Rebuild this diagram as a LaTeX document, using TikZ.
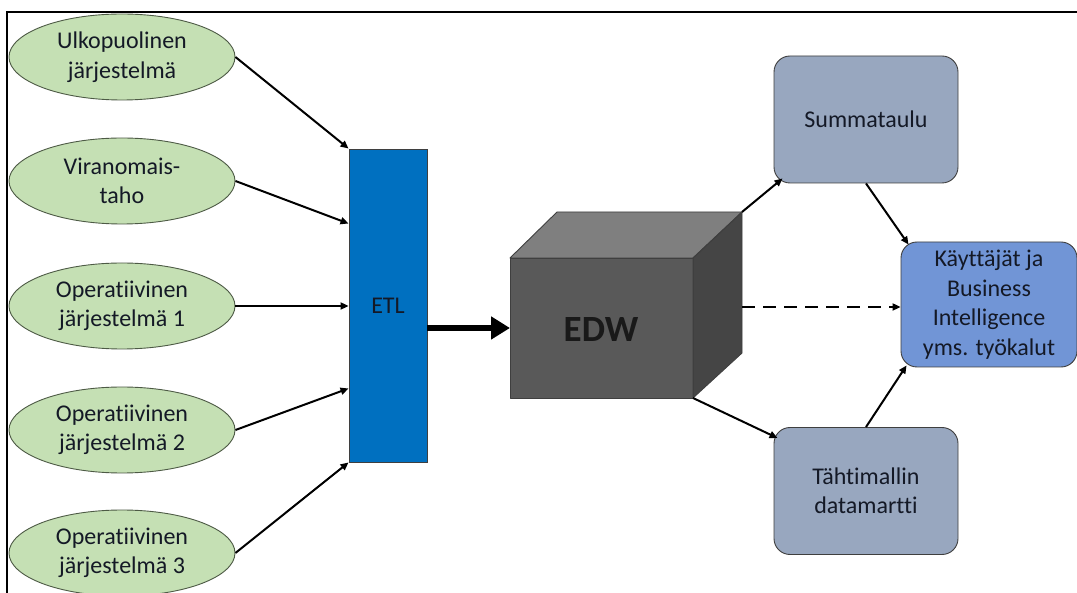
\documentclass[tikz,border=0pt]{standalone}
\usepackage{fontspec}
\setmainfont{Carlito}[Ligatures=NoCommon]
\usetikzlibrary{arrows.meta,shapes.geometric,calc}

\definecolor{srcgreen}{HTML}{C5E0B4}
\definecolor{srcedge}{HTML}{4D5A45}
\definecolor{etlblue}{HTML}{0070C0}
\definecolor{martgray}{HTML}{98A7BF}
\definecolor{userblue}{HTML}{7195D6}
\definecolor{boxedge}{HTML}{3F3F3F}
\definecolor{cubefront}{HTML}{595959}
\definecolor{cubetop}{HTML}{7F7F7F}
\definecolor{cubeside}{HTML}{454545}
\definecolor{inktext}{HTML}{141926}

\tikzset{
  labeltext/.style={font=\fontsize{24}{29.5}\selectfont, text=inktext},
  source/.style={ellipse, draw=srcedge, fill=srcgreen, line width=0.9pt,
    minimum width=226, minimum height=86, inner sep=0pt, align=center,
    labeltext},
  etlbox/.style={rectangle, draw=boxedge, fill=etlblue, line width=0.9pt,
    minimum width=78, minimum height=313, inner sep=0pt, labeltext},
  mart/.style={rectangle, rounded corners=16, draw=boxedge, fill=martgray,
    line width=0.9pt, minimum width=184, minimum height=127, inner sep=0pt,
    align=center, labeltext},
  users/.style={mart, fill=userblue, minimum width=176, minimum height=125},
  flow/.style={line width=2pt, -{Triangle[length=8pt,width=7pt]}},
  bigflow/.style={line width=6pt, -{Triangle[length=19pt,width=22pt]}},
  dashflow/.style={flow, dash pattern=on 13pt off 8pt},
  cubeface/.style={draw=boxedge, line width=0.9pt, line join=round},
}

\begin{document}
\begin{tikzpicture}[x=1pt,y=-1pt]
  \useasboundingbox (0,0) rectangle (1077,593);
  \fill[white] (0,0) rectangle (1077,593);

  % outer frame (left and top edges visible)
  \draw[line width=1.6pt] (7,600) -- (7,12) -- (1085,12);

  % data sources
  \node[source] (s1) at (122,57)  {Ulkopuolinen\\järjestelmä};
  \node[source] (s2) at (122,181) {Viranomais-\\taho};
  \node[source] (s3) at (122,306) {Operatiivinen\\järjestelmä 1};
  \node[source] (s4) at (122,430) {Operatiivinen\\järjestelmä 2};
  \node[source] (s5) at (122,553) {Operatiivinen\\järjestelmä 3};

  % ETL stage
  \node[etlbox] (etl) at (388,305.5) {ETL};

  % EDW cube
  \coordinate (fA) at (510,258);
  \coordinate (fB) at (693,258);
  \coordinate (fC) at (693,398);
  \coordinate (fD) at (510,398);
  \coordinate (bA) at (557,212);
  \coordinate (bB) at (742,212);
  \coordinate (bC) at (742,353);
  \fill[cubetop]  (fA) -- (bA) -- (bB) -- (fB) -- cycle;
  \fill[cubeside] (fB) -- (bB) -- (bC) -- (fC) -- cycle;
  \fill[cubefront] (fA) rectangle (fC);
  \draw[cubeface] (fA) -- (bA) -- (bB) -- (fB) -- cycle;
  \draw[cubeface] (fB) -- (bB) -- (bC) -- (fC) -- cycle;
  \draw[cubeface] (fA) rectangle (fC);
  \node[font=\fontsize{37}{42}\selectfont\bfseries, text=black!90] (edw) at (601,330) {EDW};
  \coordinate (edwin) at (510,328);
  \coordinate (edwout) at (742,307);

  % downstream
  \node[mart]  (sum)   at (866,119.5) {Summataulu};
  \node[mart]  (star)  at (866,491)   {Tähtimallin\\datamartti};
  \node[users] (bi)    at (989,304.5) {Käyttäjät ja\\Business\\Intelligence\\yms. työkalut};

  % flows into ETL
  \draw[flow] (s1.east) -- (etl.north west);
  \draw[flow] (s2.east) -- ($(etl.north west)+(0,75)$);
  \draw[flow] (s3.east) -- (etl.west |- s3.east);
  \draw[flow] (s4.east) -- ($(etl.south west)+(0,-74)$);
  \draw[flow] (s5.east) -- (etl.south west);

  % ETL to warehouse
  \draw[bigflow] (etl.east |- edwin) -- (edwin);

  % warehouse outputs
  \draw[flow] (bB) -- ($(sum.south west)+(9,-5)$);
  \draw[flow] (fC) -- ($(star.north west)+(4,11)$);
  \draw[dashflow] (edwout) -- (bi.west |- edwout);
  \draw[flow] (sum.south) -- ($(bi.north west)+(8,3)$);
  \draw[flow] (star.north) -- ($(bi.south west)+(6,-2)$);
\end{tikzpicture}
\end{document}
